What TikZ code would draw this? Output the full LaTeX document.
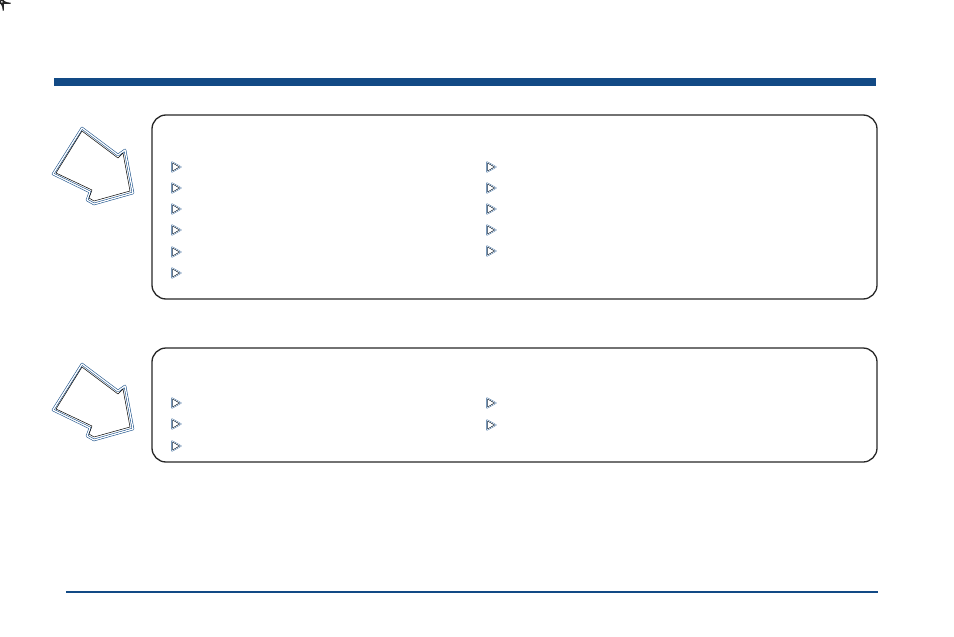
\documentclass[tikz,border=0pt]{standalone}
\begin{document}
\begin{tikzpicture}[x=1pt,y=-1pt]
\definecolor{navy}{HTML}{124A85}
\tikzset{panel/.style={draw=black!85,line width=1.3pt,rounded corners=14pt},
 bul/.pic={\draw[navy,line width=1.1pt,line join=round] (-4,-5)--(5,0)--(-4,5)--cycle;
   \draw[white,line width=0.5pt,line join=round] (-4,-5)--(5,0)--(-4,5)--cycle;
   \draw[black,line width=0.25pt,line join=round] (-3.3,-3.9)--(3.2,0)--(-3.3,3.9)--cycle;},
 arr/.pic={\draw[navy,line width=2.4pt,line join=round] (82,128)--(53,174)--(90,192)--(87,200)--(94,204)--(133,193)--(125,150)--(118,155)--cycle;
   \draw[white,line width=1.3pt,line join=round] (82,128)--(53,174)--(90,192)--(87,200)--(94,204)--(133,193)--(125,150)--(118,155)--cycle;
   \draw[black,line width=0.5pt,line join=round] (82,131)--(56,173)--(92,190)--(89,198)--(94,201)--(130,191)--(123,153)--(118,158)--cycle;}}
\useasboundingbox (0,0) rectangle (954,637);
\fill[navy] (54,78) rectangle (876,86);
\draw[navy,line width=2.5pt] (66,592) -- (878,592);
\node[panel,minimum width=0pt] (p1) at (0,0) {};
\draw[panel] (152,115) rectangle (877,299);
\draw[panel] (152,348) rectangle (877,462);
\pic at (0,0) {arr};
\pic at (0,236) {arr};
\foreach \y in {167,188,209,230,252,273} \pic at (176,\y) {bul};
\foreach \y in {167,188,209,230,251} \pic at (491,\y) {bul};
\foreach \y in {403,424,446} \pic at (176,\y) {bul};
\foreach \y in {403,425} \pic at (491,\y) {bul};
\end{tikzpicture}
\end{document}
